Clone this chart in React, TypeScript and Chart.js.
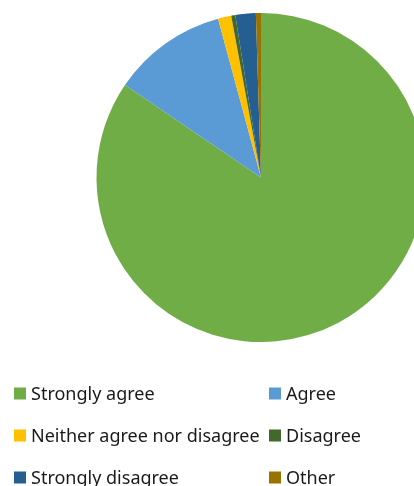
import React, { useEffect, useRef } from "react";
import { Chart, registerables } from "chart.js";

Chart.register(...registerables);

const categories = [
  "Strongly agree",
  "Agree",
  "Neither agree nor disagree",
  "Disagree",
  "Strongly disagree",
  "Other",
];
const values = [84.5, 11.3, 1.3, 0.4, 2.0, 0.5];
const colors = ["#70AD47", "#5B9BD5", "#FFC000", "#43682B", "#255E91", "#997300"];

const FONT = '18px "Noto Sans", "Open Sans", sans-serif';

const legendPlugin = {
  id: "gridLegend",
  afterDraw(chart: any) {
    const ctx = chart.ctx;
    ctx.save();
    ctx.font = FONT;
    ctx.textBaseline = "middle";
    ctx.textAlign = "left";
    const colX = [14, 269];
    const rowY = [393.5, 435.5, 477.5];
    categories.forEach((label, i) => {
      const x = colX[i % 2];
      const y = rowY[Math.floor(i / 2)];
      ctx.fillStyle = colors[i];
      ctx.fillRect(x, y - 6, 12, 12);
      ctx.fillStyle = "#1a1a1a";
      ctx.fillText(label, x + 17, y + 1);
    });
    ctx.restore();
  },
};

export default function App() {
  const ref = useRef<HTMLCanvasElement>(null);
  useEffect(() => {
    if (!ref.current) return;
    const chart = new Chart(ref.current, {
      type: "pie",
      data: {
        labels: categories,
        datasets: [
          {
            data: values,
            backgroundColor: colors,
            borderWidth: 0,
            hoverOffset: 0,
            offset: 0,
          },
        ],
      },
      options: {
        responsive: false,
        animation: false,
        devicePixelRatio: 1,
        layout: { padding: { top: 13, bottom: 144, left: 0, right: 0 } },
        plugins: {
          legend: { display: false },
          tooltip: { enabled: false },
        },
      },
      plugins: [legendPlugin],
    });
    return () => chart.destroy();
  }, []);
  return (
    <div
      style={{
        position: "absolute",
        left: 0,
        top: 0,
        width: 414,
        height: 486,
        overflow: "hidden",
        background: "#fff",
      }}
    >
      <canvas ref={ref} width={522} height={486} style={{ width: 522, height: 486, display: "block" }} />
    </div>
  );
}
